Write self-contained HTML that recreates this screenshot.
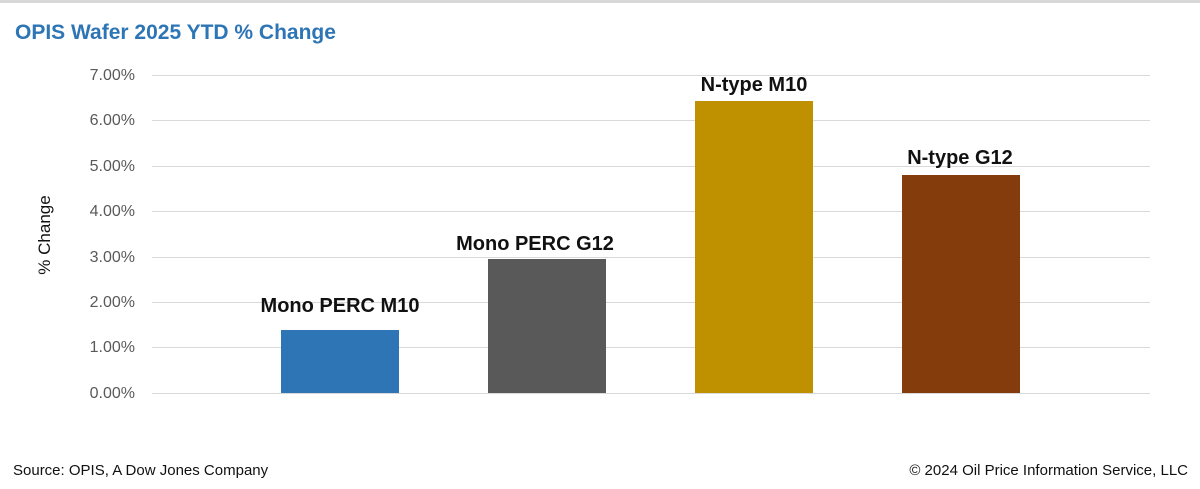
<!DOCTYPE html>
<html><head><style>
body{margin:0;width:1200px;height:489px;background:#fff;position:relative;overflow:hidden;font-family:"Liberation Sans",sans-serif}
.top{position:absolute;left:0;top:0;width:1200px;height:3px;background:#d8d8d8}
.t{position:absolute;left:15px;top:21px;font-size:21px;font-weight:bold;color:#2e75b6}
.g{position:absolute;left:152px;width:998px;height:1px;background:#d9d9d9}
.y{position:absolute;left:50px;width:85px;text-align:right;font-size:16px;color:#595959}
.b{position:absolute;width:118px}
.l{position:absolute;font-size:20px;font-weight:bold;color:#111;width:240px;text-align:center}
.f{position:absolute;top:462px;font-size:15px;color:#111}
</style></head><body>
<div class="top"></div>
<div class="t">OPIS Wafer 2025 YTD % Change</div>
<div class="g" style="top:75px"></div><div class="y" style="top:67px">7.00%</div>
<div class="g" style="top:120px"></div><div class="y" style="top:112px">6.00%</div>
<div class="g" style="top:166px"></div><div class="y" style="top:158px">5.00%</div>
<div class="g" style="top:211px"></div><div class="y" style="top:203px">4.00%</div>
<div class="g" style="top:257px"></div><div class="y" style="top:249px">3.00%</div>
<div class="g" style="top:302px"></div><div class="y" style="top:294px">2.00%</div>
<div class="g" style="top:347px"></div><div class="y" style="top:339px">1.00%</div>
<div class="g" style="top:393px"></div><div class="y" style="top:385px">0.00%</div>
<div style="position:absolute;left:-10px;top:225px;transform:rotate(-90deg);font-size:17px;color:#111;width:110px;text-align:center">% Change</div>
<div class="b" style="left:281px;top:330px;height:63px;background:#2e75b6"></div>
<div class="b" style="left:488px;top:259px;height:134px;background:#595959"></div>
<div class="b" style="left:695px;top:101px;height:292px;background:#bf9000"></div>
<div class="b" style="left:902px;top:175px;height:218px;background:#843c0c"></div>
<div class="l" style="left:220px;top:295px">Mono PERC M10</div>
<div class="l" style="left:415px;top:233px">Mono PERC G12</div>
<div class="l" style="left:634px;top:74px">N-type M10</div>
<div class="l" style="left:840px;top:147px">N-type G12</div>
<div class="f" style="left:13px">Source: OPIS, A Dow Jones Company</div>
<div class="f" style="right:12px">© 2024 Oil Price Information Service, LLC</div>
</body></html>
